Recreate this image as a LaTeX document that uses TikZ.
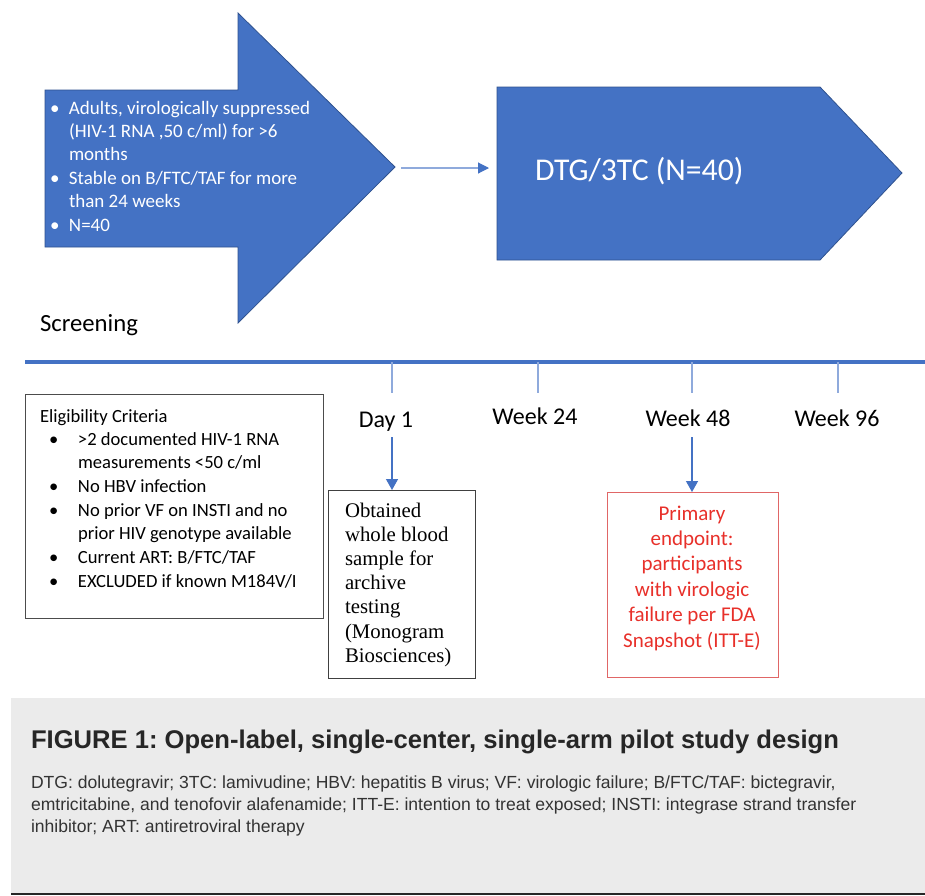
\documentclass[tikz,border=0pt]{standalone}
\usepackage{fontspec}
\setmainfont{Carlito}
\newfontfamily\serifF{Liberation Serif}
\newfontfamily\arialF{Liberation Sans}
\usetikzlibrary{arrows.meta}
\definecolor{blueF}{HTML}{4472C4}
\definecolor{blueE}{HTML}{2F528F}
\definecolor{tickC}{HTML}{8FAADC}
\definecolor{redT}{HTML}{E8302A}
\definecolor{redB}{HTML}{E06666}
\definecolor{capBG}{HTML}{EBEBEB}
\definecolor{capT}{HTML}{333333}
\newcommand{\fsz}[2]{\fontsize{#1}{#2}\selectfont}
\frenchspacing
\begin{document}
\frenchspacing
\begin{tikzpicture}[x=1pt,y=-1pt,
  txt/.style={inner sep=0pt, outer sep=0pt},
  bluearrowshape/.style={draw=blueE, fill=blueF, line width=0.8pt, line join=miter},
  tickline/.style={draw=tickC, line width=1.3pt},
  downarrow/.style={draw=blueF, line width=1.3pt, -{Triangle[width=12pt,length=11pt]}},
  box/.style={draw=#1, line width=1.1pt, inner sep=0pt, anchor=north west}
]
\useasboundingbox (0,0) rectangle (925,895);
\fill[white] (0,0) rectangle (925,895);

% Screening arrow
\draw[bluearrowshape] (45,90) -- (238,90) -- (238,13) -- (395,167) -- (238,323) -- (238,247) -- (45,247) -- cycle;
\node[txt, anchor=base west, text=white, font=\fsz{19}{23.4}] (scrtext) at (50,114)
 {\begin{tabular}[t]{@{}p{19pt}@{}l@{}}
  \textbullet & Adults, virologically suppressed\\
   & (HIV-1 RNA ,50 c/ml) for >6\\
   & months\\
  \textbullet & Stable on B/FTC/TAF for more\\
   & than 24 weeks\\
  \textbullet & N=40
 \end{tabular}};
\node[txt, anchor=base west, font=\fsz{24.7}{28}] (screening) at (40,331) {Screening};

% small arrow
\coordinate (sa) at (401,168);
\coordinate (sb) at (489,168);
\draw[draw=tickC, line width=1.1pt, -{Triangle[width=11pt,length=11pt,fill=blueF,color=blueF]}] (sa) -- (sb);

% DTG arrow
\draw[bluearrowshape] (497,87) -- (820,87) -- (902,173) -- (820,260) -- (497,260) -- cycle;
\node[txt, anchor=base west, text=white, font=\fsz{31.7}{36}] (dtg) at (535,180) {DTG/3TC (N=40)};

% timeline
\coordinate (tlL) at (25,362);
\coordinate (tlR) at (925,362);
\draw[draw=blueF, line width=4pt] (tlL) -- (tlR);
\coordinate (t1) at (392,362);
\coordinate (t2) at (538,362);
\coordinate (t3) at (692,362);
\coordinate (t4) at (838,362);
\coordinate (t1b) at (392,393);
\coordinate (t2b) at (538,393);
\coordinate (t3b) at (692,393);
\coordinate (t4b) at (838,393);
\draw[tickline] (t1) -- (t1b);
\draw[tickline] (t2) -- (t2b);
\draw[tickline] (t3) -- (t3b);
\draw[tickline] (t4) -- (t4b);

\node[txt, anchor=base, font=\fsz{24}{28}] (day1) at (386,427) {Day 1};
\node[txt, anchor=base, font=\fsz{24}{28}] (w24) at (535,424) {Week 24};
\node[txt, anchor=base, font=\fsz{24}{28}] (w48) at (688,426) {Week 48};
\node[txt, anchor=base, font=\fsz{24}{28}] (w96) at (837,426) {Week 96};

% eligibility box
\node[box=black!70, minimum width=298pt, minimum height=224pt] (elig) at (25,394) {};
\node[txt, anchor=base west, font=\fsz{18.6}{23.7}] (eligt) at (40,422) {Eligibility Criteria};
\node[txt, anchor=base west, font=\fsz{18.6}{23.7}] (eligl) at (49,445)
 {\begin{tabular}[t]{@{}p{29pt}@{}l@{}}
  \textbullet & >2 documented HIV-1 RNA\\
   & measurements <50 c/ml\\
  \textbullet & No HBV infection\\
  \textbullet & No prior VF on INSTI and no\\
   & prior HIV genotype available\\
  \textbullet & Current ART: B/FTC/TAF\\
  \textbullet & EXCLUDED if known M184V/I
 \end{tabular}};

% obtained box
\node[box=black!75, minimum width=147pt, minimum height=188pt] (obt) at (328,490) {};
\node[txt, anchor=base west, font=\serifF\fsz{20.8}{24.2}] (obtt) at (345,517)
 {\begin{tabular}[t]{@{}l@{}}
  Obtained\\ whole blood\\ sample for\\ archive\\ testing\\ (Monogram\\ Biosciences)
 \end{tabular}};

% primary endpoint box
\node[box=redB, minimum width=171pt, minimum height=185pt] (prim) at (607,492) {};
\node[txt, anchor=base, text=redT, font=\fsz{21}{25.4}] (primt) at (692,520)
 {\begin{tabular}[t]{@{}c@{}}
  Primary\\ endpoint:\\ participants\\ with virologic\\ failure per FDA\\ Snapshot (ITT-E)
 \end{tabular}};

% down arrows
\coordinate (d1) at (392,437);
\coordinate (d48) at (692,437);
\draw[downarrow] (d1) -- (d1 |- obt.north);
\draw[downarrow] (d48) -- (d48 |- prim.north);

% caption
\fill[capBG] (11,698) rectangle (925,893);
\fill[black!85] (11,892.5) rectangle (925,895);
\node[txt, anchor=base west, text=black!85, font=\arialF\bfseries\fsz{25.6}{30}] (captitle) at (31,748)
 {FIGURE 1: Open-label, single-center, single-arm pilot study design};
\node[txt, anchor=base west, text=capT, font=\arialF\fsz{17.55}{22.2}] (captext) at (31,788)
 {\begin{tabular}[t]{@{}l@{}}
  DTG: dolutegravir; 3TC: lamivudine; HBV: hepatitis B virus; VF: virologic failure; B/FTC/TAF: bictegravir,\\
  emtricitabine, and tenofovir alafenamide; ITT-E: intention to treat exposed; INSTI: integrase strand transfer\\
  inhibitor; ART: antiretroviral therapy
 \end{tabular}};
\end{tikzpicture}
\end{document}
